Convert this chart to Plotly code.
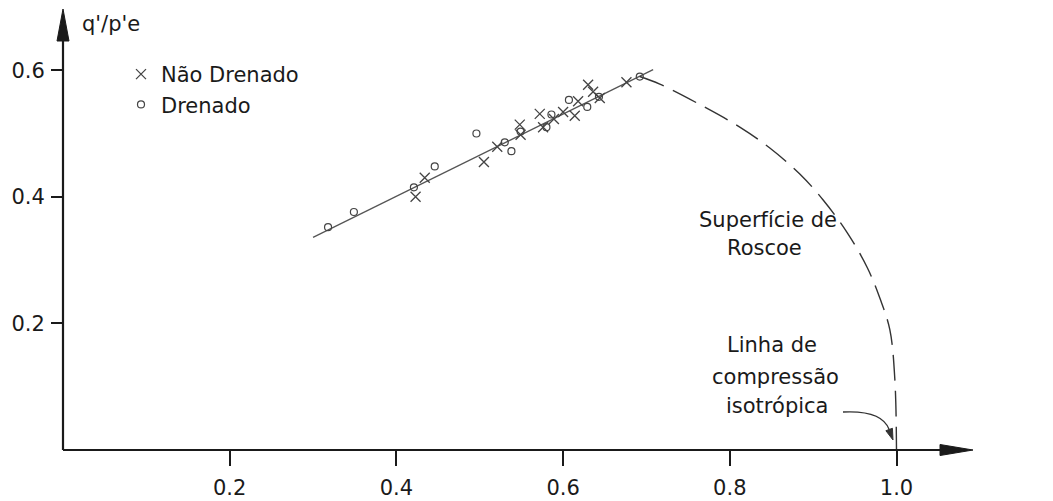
import math
import plotly.graph_objects as go

# ---- data -------------------------------------------------------------
# undrained tests (x markers)
und_p = [0.423, 0.434, 0.505, 0.521, 0.548, 0.549, 0.572, 0.576, 0.589,
         0.600, 0.614, 0.618, 0.630, 0.636, 0.644, 0.676]
und_q = [0.400, 0.430, 0.455, 0.479, 0.514, 0.498, 0.531, 0.510, 0.523,
         0.534, 0.528, 0.551, 0.577, 0.566, 0.556, 0.581]

# drained tests (open circles)
dr_p = [0.318, 0.349, 0.421, 0.446, 0.496, 0.530, 0.538, 0.549, 0.580,
        0.586, 0.607, 0.629, 0.643, 0.692]
dr_q = [0.352, 0.376, 0.415, 0.448, 0.500, 0.486, 0.472, 0.503, 0.510,
        0.530, 0.553, 0.542, 0.558, 0.590]

# fitted (Hvorslev) line
fit_p = [0.300, 0.708]
fit_q = [0.336, 0.601]

# Roscoe surface
roscoe_p = [0.692, 0.716, 0.768, 0.812, 0.848, 0.884, 0.912, 0.941,
            0.965, 0.980, 0.992, 0.998, 1.000]
roscoe_q = [0.590, 0.578, 0.543, 0.510, 0.477, 0.436, 0.395, 0.343,
            0.288, 0.240, 0.190, 0.112, 0.000]

x_ticks = [0.2, 0.4, 0.6, 0.8, 1.0]
x_tick_text = ["0.2", "0.4", "0.6", "0.8", "1.0"]
y_ticks = [0.2, 0.4, 0.6]
y_tick_text = ["0.2", "0.4", "0.6"]

# ---- geometry ---------------------------------------------------------
W, H = 1053, 501
ML, MB = 63, 51
SX, SY = 833.5, 633.0          # pixels per unit on each axis
X_MAX = (W - ML) / SX
Y_MAX = (H - MB) / SY
PW, PH = W - ML, H - MB


def xd(px):
    return (px - ML) / SX


def yd(py):
    return (PH - py) / SY


def xp(px):
    return (px - ML) / PW


def yp(py):
    return (PH - py) / PH


FONT = "DejaVu Sans, Verdana, sans-serif"
FS = 21
INK = "#1a1a1a"
MARK = "#444444"

fig = go.Figure()

fig.add_trace(go.Scatter(x=fit_p, y=fit_q, mode="lines",
                         line=dict(color="#555555", width=1.3),
                         showlegend=False, hoverinfo="skip"))
fig.add_trace(go.Scatter(x=roscoe_p, y=roscoe_q, mode="lines",
                         line=dict(color="#333333", width=1.4,
                                   dash="26px,10px", shape="spline",
                                   smoothing=1.0),
                         showlegend=False, hoverinfo="skip"))
fig.add_trace(go.Scatter(x=und_p, y=und_q, mode="markers", name="Não Drenado",
                         marker=dict(symbol="x-thin-open", size=10, color=MARK,
                                     line=dict(color=MARK, width=1.3))))
fig.add_trace(go.Scatter(x=dr_p, y=dr_q, mode="markers", name="Drenado",
                         marker=dict(symbol="circle-open", size=7, color=MARK,
                                     line=dict(color=MARK, width=1.2))))

shapes = []
# axis lines (paper-referenced so they are not clipped at the plot edge)
shapes.append(dict(type="line", xref="paper", yref="paper", x0=0, y0=0,
                   x1=xp(945), y1=0, line=dict(color=INK, width=2.2)))
shapes.append(dict(type="line", xref="paper", yref="paper", x0=0, y0=0,
                   x1=0, y1=yp(38), line=dict(color=INK, width=2.2)))


def tri(tip, base_c, half):
    (tx, ty), (bx, by) = tip, base_c
    dx, dy = tx - bx, ty - by
    n = math.hypot(dx, dy)
    ux, uy = -dy / n, dx / n
    pts = [(tx, ty), (bx + ux * half, by + uy * half), (bx - ux * half, by - uy * half)]
    return "M " + " L ".join(f"{xp(px)},{yp(py)}" for px, py in pts) + " Z"


# arrowheads on the axes
shapes.append(dict(type="path", xref="paper", yref="paper",
                   path=tri((973, 450), (940, 450), 5.5),
                   fillcolor=INK, line=dict(color=INK, width=1)))
shapes.append(dict(type="path", xref="paper", yref="paper",
                   path=tri((63, 9), (63, 41), 6),
                   fillcolor=INK, line=dict(color=INK, width=1)))

# curved pointer to the isotropic compression line
p0, pc, p1 = (843, 412), (882, 410), (893, 440)
hb = (p1[0] - (p1[0] - pc[0]) * 0.35, p1[1] - (p1[1] - pc[1]) * 0.35)
shapes.append(dict(type="path", xref="paper", yref="paper",
                   path=f"M {xp(p0[0])},{yp(p0[1])} Q {xp(pc[0])},{yp(pc[1])} "
                        f"{xp(hb[0])},{yp(hb[1])}",
                   line=dict(color="#333333", width=1.3)))
shapes.append(dict(type="path", xref="paper", yref="paper",
                   path=tri(p1, hb, 3.5),
                   fillcolor="#333333", line=dict(color="#333333", width=1)))


def label(text, px, py, anchor="center"):
    return dict(x=xd(px), y=yd(py), xref="x", yref="y", text=text,
                showarrow=False, xanchor=anchor, yanchor="middle",
                font=dict(family=FONT, size=FS, color=INK))


annotations = [
    label("q'/p'e", 80, 24, "left"),
    label("p'/p'e", 977, 463, "left"),
    label("Superfície de", 768, 220),
    label("Roscoe", 764, 248),
    label("Linha de", 772, 345),
    label("compressão", 775, 377),
    label("isotrópica", 777, 406),
]

fig.update_layout(
    width=W, height=H,
    margin=dict(l=ML, r=0, t=0, b=MB, pad=0),
    paper_bgcolor="white", plot_bgcolor="white",
    font=dict(family=FONT, size=FS, color=INK),
    shapes=shapes, annotations=annotations,
    showlegend=True,
    legend=dict(x=(121 - ML) / PW, y=1 - 54 / PH,
                xanchor="left", yanchor="top",
                bgcolor="rgba(0,0,0,0)", borderwidth=0,
                font=dict(family=FONT, size=FS, color=INK),
                itemclick=False, itemdoubleclick=False),
    xaxis=dict(range=[0, X_MAX], showgrid=False, zeroline=False, showline=False,
               tickmode="array", tickvals=x_ticks, ticktext=x_tick_text,
               ticks="outside", ticklen=15, tickwidth=2, tickcolor=INK,
               ticklabelstandoff=4,
               tickfont=dict(family=FONT, size=FS, color=INK)),
    yaxis=dict(range=[0, Y_MAX], showgrid=False, zeroline=False, showline=False,
               tickmode="array", tickvals=y_ticks, ticktext=y_tick_text,
               ticks="outside", ticklen=11, tickwidth=2, tickcolor=INK,
               ticklabelstandoff=2,
               tickfont=dict(family=FONT, size=FS, color=INK)),
)

fig.write_html("out.html", config={"displayModeBar": False})
